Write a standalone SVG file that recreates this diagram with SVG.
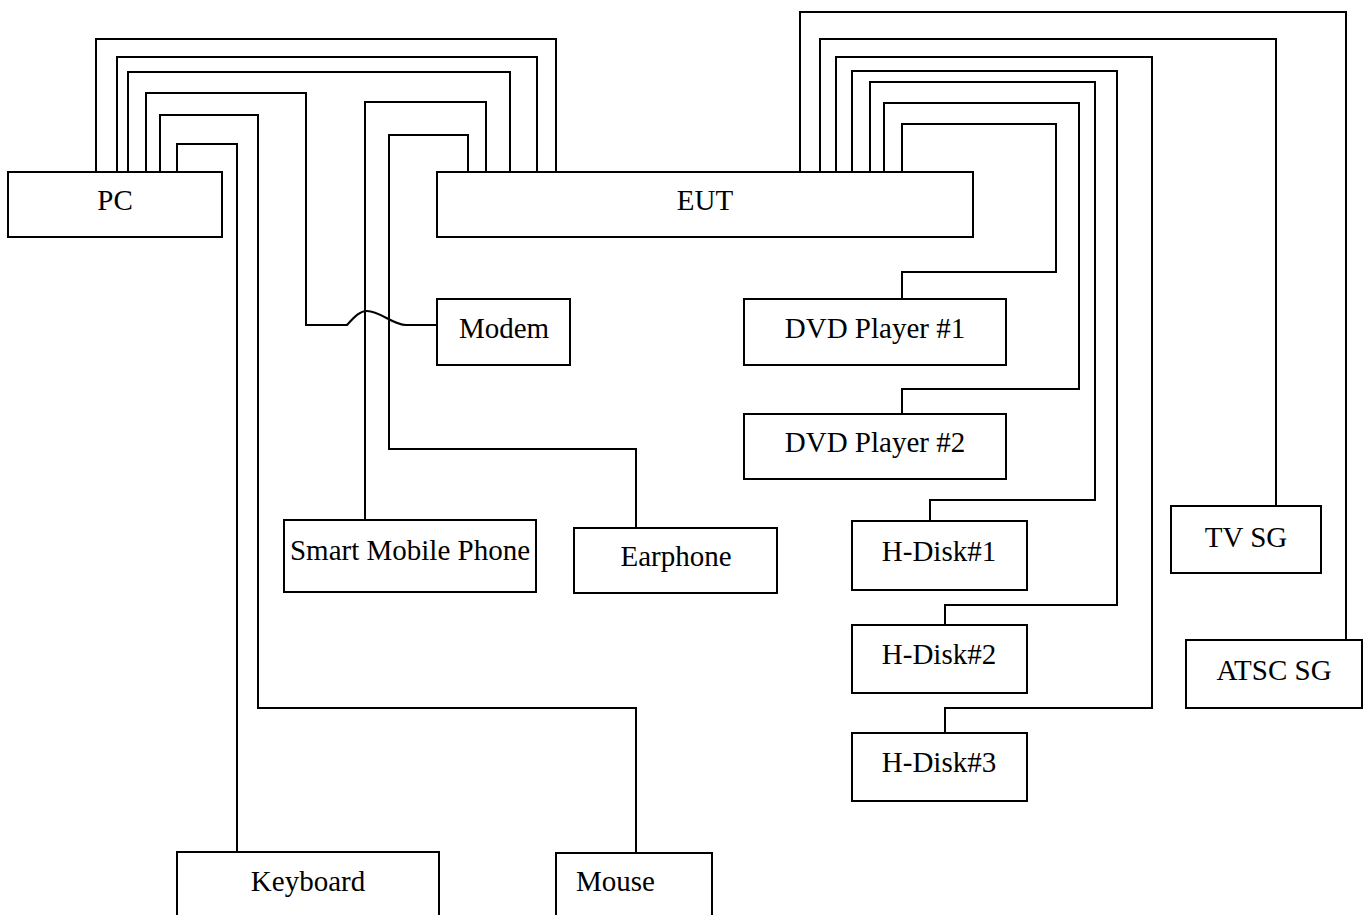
<svg xmlns="http://www.w3.org/2000/svg" width="1367" height="915" viewBox="0 0 1367 915">
<style>
.box{fill:#fff;stroke:#000;stroke-width:2}
.lbl{font-family:"Liberation Serif","Times New Roman",serif;font-size:29px;fill:#000;text-anchor:middle}
.w{fill:none;stroke:#000;stroke-width:2}
</style>
<rect width="1367" height="915" fill="#fff"/>
<g id="connectors">
<path class="w" d="M96,172 V39 H556 V172"/>
<path class="w" d="M117,172 V57 H537 V172"/>
<path class="w" d="M128,172 V72 H510 V172"/>
<path class="w" d="M146,172 V93 H306 V325 H347 C355,316 360,311 367,311 C380,311 393,325 406,325 H437"/>
<path class="w" d="M160,172 V115 H258 V708 H636 V853"/>
<path class="w" d="M177,172 V144 H237 V852"/>
<path class="w" d="M365,520 V102 H486 V172"/>
<path class="w" d="M636,528 V449 H389 V135 H468 V172"/>
<path class="w" d="M800,172 V12 H1346 V640"/>
<path class="w" d="M820,172 V39 H1276 V506"/>
<path class="w" d="M836,172 V57 H1152 V708 H945 V733"/>
<path class="w" d="M852,172 V71 H1117 V605 H945 V625"/>
<path class="w" d="M870,172 V82 H1095 V500 H930 V521"/>
<path class="w" d="M884,172 V103 H1079 V389 H902 V414"/>
<path class="w" d="M902,172 V124 H1056 V272 H902 V299"/>
</g>
<g id="pc"><rect class="box" x="8" y="172" width="214" height="65"/><text class="lbl" x="115" y="210">PC</text></g>
<g id="eut"><rect class="box" x="437" y="172" width="536" height="65"/><text class="lbl" x="705" y="210">EUT</text></g>
<g id="modem"><rect class="box" x="437" y="299" width="133" height="66"/><text class="lbl" x="504" y="338">Modem</text></g>
<g id="dvd1"><rect class="box" x="744" y="299" width="262" height="66"/><text class="lbl" x="875" y="338">DVD Player #1</text></g>
<g id="dvd2"><rect class="box" x="744" y="414" width="262" height="65"/><text class="lbl" x="875" y="452">DVD Player #2</text></g>
<g id="phone"><rect class="box" x="284" y="520" width="252" height="72"/><text class="lbl" x="410" y="560">Smart Mobile Phone</text></g>
<g id="earphone"><rect class="box" x="574" y="528" width="203" height="65"/><text class="lbl" x="676" y="566">Earphone</text></g>
<g id="hdisk1"><rect class="box" x="852" y="521" width="175" height="69"/><text class="lbl" x="939" y="561">H-Disk#1</text></g>
<g id="hdisk2"><rect class="box" x="852" y="625" width="175" height="68"/><text class="lbl" x="939" y="664">H-Disk#2</text></g>
<g id="hdisk3"><rect class="box" x="852" y="733" width="175" height="68"/><text class="lbl" x="939" y="772">H-Disk#3</text></g>
<g id="tvsg"><rect class="box" x="1171" y="506" width="150" height="67"/><text class="lbl" x="1246" y="547">TV SG</text></g>
<g id="atscsg"><rect class="box" x="1186" y="640" width="176" height="68"/><text class="lbl" x="1274" y="680">ATSC SG</text></g>
<g id="keyboard"><rect class="box" x="177" y="852" width="262" height="80"/><text class="lbl" x="308" y="891">Keyboard</text></g>
<g id="mouse"><rect class="box" x="556" y="853" width="156" height="80"/><text class="lbl" x="576" y="891" style="text-anchor:start">Mouse</text></g>
</svg>
